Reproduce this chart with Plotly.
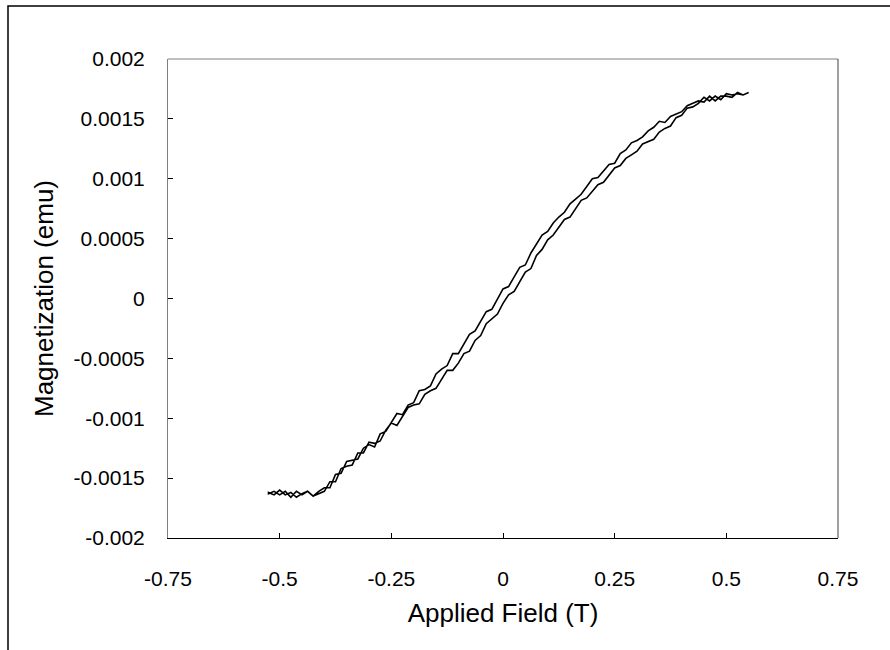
import plotly.graph_objects as go

# Applied field sweep values (T)
field = [-0.525, -0.5125, -0.5, -0.4875, -0.475, -0.4625, -0.45, -0.4375, -0.425, -0.4125,
         -0.4, -0.3875, -0.375, -0.3625, -0.35, -0.3375, -0.325, -0.3125, -0.3, -0.2875,
         -0.275, -0.2625, -0.25, -0.2375, -0.225, -0.2125, -0.2, -0.1875, -0.175, -0.1625,
         -0.15, -0.1375, -0.125, -0.1125, -0.1, -0.0875, -0.075, -0.0625, -0.05, -0.0375,
         -0.025, -0.0125, 0.0, 0.0125, 0.025, 0.0375, 0.05, 0.0625, 0.075, 0.0875,
         0.1, 0.1125, 0.125, 0.1375, 0.15, 0.1625, 0.175, 0.1875, 0.2, 0.2125,
         0.225, 0.2375, 0.25, 0.2625, 0.275, 0.2875, 0.3, 0.3125, 0.325, 0.3375,
         0.35, 0.3625, 0.375, 0.3875, 0.4, 0.4125, 0.425, 0.4375, 0.45, 0.4625,
         0.475, 0.4875, 0.5, 0.5125, 0.525, 0.5375, 0.55]

# Descending branch (from +saturation), listed in order of increasing field (emu)
m_descending = [-0.00162, -0.00164, -0.00160, -0.00164, -0.00162, -0.00166, -0.00163, -0.00161, -0.00165, -0.00161,
                -0.00158, -0.00158, -0.00147, -0.00146, -0.00136, -0.00135, -0.00134, -0.00125, -0.00122, -0.00124,
                -0.00113, -0.00111, -0.00104, -0.00096, -0.00097, -0.00089, -0.00087, -0.00077, -0.00076, -0.00073,
                -0.00063, -0.00059, -0.00056, -0.00046, -0.00046, -0.00038, -0.00030, -0.00027, -0.00019, -0.00011,
                -0.00009, -0.00001, 0.00008, 0.00010, 0.00018, 0.00026, 0.00028, 0.00038, 0.00045, 0.00053,
                0.00056, 0.00063, 0.00068, 0.00072, 0.00079, 0.00083, 0.00087, 0.00094, 0.00100, 0.00101,
                0.00106, 0.00112, 0.00113, 0.00121, 0.00124, 0.00130, 0.00132, 0.00135, 0.00140, 0.00143,
                0.00148, 0.00147, 0.00152, 0.00154, 0.00156, 0.00161, 0.00163, 0.00165, 0.00164, 0.00169,
                0.00165, 0.00169, 0.00169, 0.00168, 0.00172, 0.00170, 0.00172]

# Ascending branch (from -saturation), in order of increasing field (emu)
m_ascending = [-0.00163, -0.00161, -0.00164, -0.00161, -0.00166, -0.00161, -0.00164, -0.00161, -0.00165, -0.00163,
               -0.00161, -0.00153, -0.00153, -0.00142, -0.00140, -0.00139, -0.00129, -0.00129, -0.00120, -0.00121,
               -0.00119, -0.00110, -0.00104, -0.00106, -0.00099, -0.00091, -0.00089, -0.00088, -0.00080, -0.00077,
               -0.00075, -0.00067, -0.00060, -0.00060, -0.00054, -0.00046, -0.00044, -0.00035, -0.00031, -0.00021,
               -0.00017, -0.00013, -0.00004, 0.00003, 0.00006, 0.00014, 0.00022, 0.00025, 0.00036, 0.00041,
               0.00049, 0.00053, 0.00060, 0.00066, 0.00068, 0.00075, 0.00082, 0.00084, 0.00090, 0.00095,
               0.00097, 0.00103, 0.00109, 0.00111, 0.00117, 0.00120, 0.00123, 0.00129, 0.00131, 0.00133,
               0.00139, 0.00142, 0.00144, 0.00151, 0.00153, 0.00159, 0.00160, 0.00163, 0.00168, 0.00165,
               0.00169, 0.00166, 0.00171, 0.00170, 0.00171, 0.00170, 0.00172]

x_tick_values = [-0.75, -0.5, -0.25, 0, 0.25, 0.5, 0.75]
x_tick_labels = ["-0.75", "-0.5", "-0.25", "0", "0.25", "0.5", "0.75"]
y_tick_values = [0.002, 0.0015, 0.001, 0.0005, 0, -0.0005, -0.001, -0.0015, -0.002]
y_tick_labels = ["0.002", "0.0015", "0.001", "0.0005", "0", "-0.0005", "-0.001", "-0.0015", "-0.002"]

# Loop: descending sweep (+sat -> -sat) then ascending sweep (-sat -> +sat)
loop_x = field[::-1] + field
loop_y = m_descending[::-1] + m_ascending

fig = go.Figure()
fig.add_trace(go.Scatter(x=loop_x, y=loop_y, mode="lines",
                         line=dict(color="black", width=1.6),
                         showlegend=False, hoverinfo="x+y"))

font_family = "Liberation Sans, Arial, sans-serif"
fig.update_layout(
    width=890, height=650,
    margin=dict(l=168, r=52, t=59, b=112),
    paper_bgcolor="white", plot_bgcolor="white",
    font=dict(family=font_family, color="black"),
    xaxis=dict(range=[-0.75, 0.75], tickvals=x_tick_values, ticktext=x_tick_labels,
               ticks="inside", ticklen=5, tickcolor="black", tickwidth=1,
               showline=True, linecolor="black", linewidth=1, mirror=False,
               showgrid=False, zeroline=False,
               tickfont=dict(size=21, family=font_family), ticklabelstandoff=22,
               title=dict(text="Applied Field (T)", font=dict(size=26, family=font_family), standoff=14)),
    yaxis=dict(range=[-0.002, 0.002], tickvals=y_tick_values, ticktext=y_tick_labels,
               ticks="inside", ticklen=5, tickcolor="black", tickwidth=1,
               showline=True, linecolor="#808080", linewidth=1, mirror=False,
               showgrid=False, zeroline=False,
               tickfont=dict(size=21, family=font_family), ticklabelstandoff=18,
               title=dict(text="Magnetization (emu)", font=dict(size=26, family=font_family), standoff=12)),
    shapes=[
        # plot area border (top and right)
        dict(type="line", xref="paper", yref="paper", x0=0, x1=1, y0=1, y1=1,
             line=dict(color="#808080", width=1), layer="below"),
        dict(type="line", xref="paper", yref="paper", x0=1, x1=1, y0=0, y1=1,
             line=dict(color="#404040", width=1), layer="below"),
        # chart area outer border
        dict(type="rect", xref="paper", yref="paper",
             x0=(8 - 168) / 670, x1=(900 - 168) / 670,
             y0=(538 - 660) / 479, y1=(538 - 6) / 479,
             line=dict(color="black", width=1.5), fillcolor="rgba(0,0,0,0)", layer="below"),
    ],
)

fig.write_html("out.html")
